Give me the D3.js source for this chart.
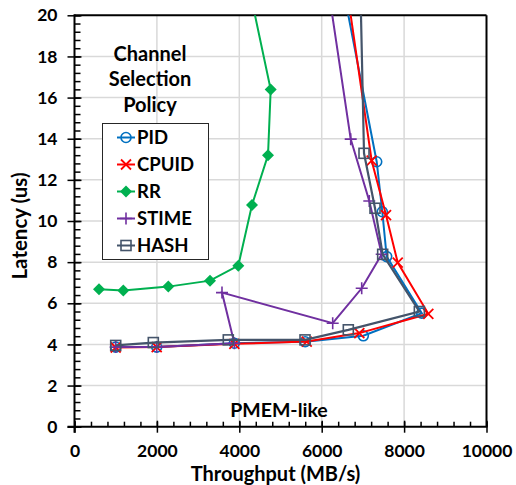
<!DOCTYPE html>
<html>
<head>
<meta charset="utf-8">
<script src="https://cdn.jsdelivr.net/npm/d3@7"></script>
<style>
  body { margin: 0; background: #fff; }
  text { font-family: Lato, "Open Sans", sans-serif; font-weight: bold; fill: #000; }
</style>
</head>
<body>
<script>
// throughput (MB/s) vs latency (us), last point of each series runs off the top
var pidX   = [1000, 1995, 3880, 5600, 7010, 8430, 7577, 7471, 7335, 6259],
    pidY   = [3.87, 3.87, 4.06, 4.13, 4.42, 5.52, 8.27, 10.45, 12.88, 24],
    cpuidX = [1000, 1995, 3880, 5636, 6913, 8588, 7845, 7561, 7213, 6416],
    cpuidY = [3.85, 3.87, 4.03, 4.14, 4.55, 5.49, 7.98, 10.29, 12.93, 24],
    rrX    = [595, 1185, 2277, 3289, 3976, 4308, 4697, 4762, 3959],
    rrY    = [6.68, 6.62, 6.81, 7.10, 7.83, 10.78, 13.20, 16.39, 24],
    stimeX = [1000, 1995, 3880, 3580, 6267, 6971, 7456, 7155, 6704, 5960],
    stimeY = [3.87, 3.88, 4.06, 6.52, 5.03, 6.73, 8.38, 10.97, 13.98, 24],
    hashX  = [1000, 1913, 3733, 5595, 6646, 8370, 7480, 7294, 7027, 6910],
    hashY  = [3.95, 4.09, 4.22, 4.22, 4.71, 5.60, 8.38, 10.62, 13.29, 24];

var seriesNames = ["PID", "CPUID", "RR", "STIME", "HASH"];
var xTicks = [0, 2000, 4000, 6000, 8000, 10000];
var yTicks = [0, 2, 4, 6, 8, 10, 12, 14, 16, 18, 20];

var W = 516, H = 485,
    mLeft = 74.5, mTop = 15.3, pw = 412, ph = 411.4;

var svg = d3.select("body").append("svg")
  .attr("width", W)
  .attr("height", H);

var x = d3.scaleLinear().domain([0, 10000]).range([mLeft, mLeft + pw]);
var y = d3.scaleLinear().domain([0, 20]).range([mTop + ph, mTop]);

var series = [
  {name: "PID",   xs: pidX,   ys: pidY,   color: "#0070C0", mark: "circle"},
  {name: "CPUID", xs: cpuidX, ys: cpuidY, color: "#FF0000", mark: "x"},
  {name: "RR",    xs: rrX,    ys: rrY,    color: "#00B050", mark: "diamond"},
  {name: "STIME", xs: stimeX, ys: stimeY, color: "#7030A0", mark: "plus"},
  {name: "HASH",  xs: hashX,  ys: hashY,  color: "#44546A", mark: "square"}
];

// grid
svg.append("g").selectAll("line")
  .data(xTicks.slice(1, -1))
  .enter().append("line")
  .attr("x1", d => x(d)).attr("x2", d => x(d))
  .attr("y1", mTop).attr("y2", mTop + ph)
  .attr("stroke", "#d9d9d9").attr("stroke-width", 1.5);
svg.append("g").selectAll("line")
  .data(yTicks.slice(1, -1))
  .enter().append("line")
  .attr("x1", mLeft).attr("x2", mLeft + pw)
  .attr("y1", d => y(d)).attr("y2", d => y(d))
  .attr("stroke", "#d9d9d9").attr("stroke-width", 1.5);

// frame on top / right
svg.append("line").attr("x1", mLeft).attr("x2", mLeft + pw).attr("y1", mTop).attr("y2", mTop)
  .attr("stroke", "#000").attr("stroke-width", 2);
svg.append("line").attr("x1", mLeft + pw).attr("x2", mLeft + pw).attr("y1", mTop).attr("y2", mTop + ph)
  .attr("stroke", "#000").attr("stroke-width", 2);

// minor ticks
var xMinor = d3.range(0, 10001, 400), yMinor = d3.range(0, 20.01, 0.4);
svg.append("g")
  .attr("transform", "translate(0," + (mTop + ph) + ")")
  .call(d3.axisBottom(x).tickValues(xMinor).tickSize(-5).tickFormat(""))
  .call(g => g.select(".domain").remove())
  .selectAll("line").attr("stroke", "#000").attr("stroke-width", 1.5);
svg.append("g")
  .attr("transform", "translate(" + mLeft + ",0)")
  .call(d3.axisLeft(y).tickValues(yMinor).tickSize(-6).tickFormat(""))
  .call(g => g.select(".domain").remove())
  .selectAll("line").attr("stroke", "#000").attr("stroke-width", 1.5);

// major axes
var gx = svg.append("g")
  .attr("transform", "translate(0," + (mTop + ph) + ")")
  .call(d3.axisBottom(x).tickValues(xTicks).tickFormat(d3.format("d"))
    .tickSize(6).tickSizeOuter(0).tickPadding(12));
gx.selectAll(".tick").append("line").attr("y2", -6);
var gy = svg.append("g")
  .attr("transform", "translate(" + mLeft + ",0)")
  .call(d3.axisLeft(y).tickValues(yTicks).tickSize(7).tickSizeOuter(0).tickPadding(10));
gy.selectAll(".tick").append("line").attr("x2", 7);

[gx, gy].forEach(function(g) {
  g.select(".domain").attr("stroke", "#000").attr("stroke-width", 2);
  g.selectAll(".tick line").attr("stroke", "#000").attr("stroke-width", 1.5);
  g.selectAll("text").style("font-size", "17.5px").style("font-family", "Lato").style("font-weight", "bold").attr("fill", "#000");
});
gy.select(".domain").attr("d", "M0," + (mTop - 1) + "V" + (mTop + ph + 6));
gx.select(".domain").attr("d", "M" + (mLeft - 7) + ",0H" + (mLeft + pw + 1));

// axis titles
svg.append("text").attr("x", x(5000) - 5).attr("y", 481)
  .attr("text-anchor", "middle").style("font-size", "20px")
  .text("Throughput (MB/s)");
svg.append("text").attr("transform", "translate(27," + (y(10) + 5) + ") rotate(-90)")
  .attr("text-anchor", "middle").style("font-size", "20.5px")
  .text("Latency (us)");

svg.append("text").attr("x", 279).attr("y", 417)
  .attr("text-anchor", "middle").style("font-size", "19.5px")
  .text("PMEM-like");

var title = ["Channel", "Selection", "Policy"];
svg.append("g").selectAll("text").data(title).enter().append("text")
  .attr("x", 150).attr("y", (d, i) => 60.5 + i * 25.8)
  .attr("text-anchor", "middle").style("font-size", "20px")
  .text(d => d);

// markers
function marker(g, type, color) {
  var s = 5;
  if (type === "circle") {
    g.append("circle").attr("r", s).attr("fill", "none").attr("stroke", color).attr("stroke-width", 1.6);
  } else if (type === "square") {
    g.append("rect").attr("x", -s).attr("y", -s).attr("width", 2 * s).attr("height", 2 * s)
      .attr("fill", "none").attr("stroke", color).attr("stroke-width", 1.6);
  } else if (type === "diamond") {
    g.append("path").attr("d", "M0,-6L6,0L0,6L-6,0Z").attr("fill", color);
  } else if (type === "x") {
    g.append("path").attr("d", "M-5,-5L5,5M-5,5L5,-5").attr("stroke", color).attr("stroke-width", 1.8);
  } else if (type === "plus") {
    g.append("path").attr("d", "M-6,0H6M0,-6V6").attr("stroke", color).attr("stroke-width", 1.6);
  }
}

svg.append("clipPath").attr("id", "plot")
  .append("rect").attr("x", mLeft).attr("y", mTop).attr("width", pw).attr("height", ph);

var plot = svg.append("g").attr("clip-path", "url(#plot)");
var line = d3.line().x(d => x(d[0])).y(d => y(d[1]));

series.forEach(function(s) {
  var pts = s.xs.map((v, i) => [v, s.ys[i]]);
  var g = plot.append("g");
  g.append("path").datum(pts).attr("d", line)
    .attr("fill", "none").attr("stroke", s.color).attr("stroke-width", s.name === "HASH" ? 2.2 : 2);
  g.selectAll("g").data(pts.filter(p => p[1] <= 20)).enter().append("g")
    .attr("transform", p => "translate(" + x(p[0]) + "," + y(p[1]) + ")")
    .each(function() { marker(d3.select(this), s.mark, s.color); });
});

// legend
var lg = svg.append("g");
lg.append("rect").attr("x", 102.5).attr("y", 123.5).attr("width", 106).attr("height", 136)
  .attr("fill", "#fff").attr("stroke", "#262626").attr("stroke-width", 1);
var items = lg.selectAll("g").data(series).enter().append("g")
  .attr("transform", (d, i) => "translate(126," + (137.5 + i * 27) + ")");
items.append("line").attr("x1", -9).attr("x2", 9)
  .attr("stroke", d => d.color).attr("stroke-width", 2);
items.each(function(d) { marker(d3.select(this), d.mark, d.color); });
items.append("text").attr("x", 11).attr("y", 6.5).style("font-size", "18.5px").text(d => d.name);
</script>
</body>
</html>
